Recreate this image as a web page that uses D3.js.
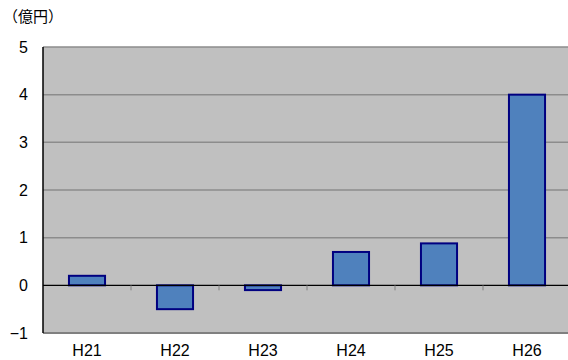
<!DOCTYPE html>
<html><head><meta charset="utf-8">
<script src="https://cdn.jsdelivr.net/npm/d3@7"></script>
<style>body{margin:0;background:#fff;} svg{display:block;font-family:"Noto Sans CJK JP","Liberation Sans",sans-serif;}</style>
</head><body>
<svg id="c" width="568" height="360"></svg>
<script>
const categories = ["H21","H22","H23","H24","H25","H26"];
const values = [0.2, -0.5, -0.1, 0.7, 0.88, 4.0];
const yTicks = [-1, 0, 1, 2, 3, 4, 5];
const unitLabel = "（億円）";

const svg = d3.select("#c");
const L = 43, R = 571, T = 47, B = 333;
const x = d3.scaleBand().domain(categories).range([L, R]).paddingInner(0.59).paddingOuter(0.295);
const xb = d3.scaleBand().domain(categories).range([L, R]);
const y = d3.scaleLinear().domain([-1, 5]).range([B, T]);

svg.append("rect").attr("x", L).attr("y", T).attr("width", R - L).attr("height", B - T).attr("fill", "#C0C0C0");
// gridlines (incl. top border)
svg.append("g").selectAll("line").data(yTicks.filter(d => d > 0)).join("line")
  .attr("x1", L).attr("x2", R).attr("y1", d => y(d)).attr("y2", d => y(d))
  .attr("stroke", "#8c8c8c").attr("stroke-width", 1.5);
// bottom border
svg.append("line").attr("x1", L).attr("x2", R).attr("y1", B).attr("y2", B).attr("stroke", "#808080").attr("stroke-width", 2);
// bars
svg.append("g").selectAll("rect").data(values).join("rect")
  .attr("x", (d, i) => x(categories[i]))
  .attr("width", x.bandwidth())
  .attr("y", d => y(Math.max(0, d)))
  .attr("height", d => Math.abs(y(d) - y(0)))
  .attr("fill", "#4F81BD").attr("stroke", "#000080").attr("stroke-width", 2);
// zero line with ticks
svg.append("line").attr("x1", L).attr("x2", R).attr("y1", y(0)).attr("y2", y(0)).attr("stroke", "#000").attr("stroke-width", 1.2);
svg.append("g").selectAll("line").data(categories.slice(1)).join("line")
  .attr("x1", d => xb(d)).attr("x2", d => xb(d)).attr("y1", y(0)).attr("y2", y(0) + 5)
  .attr("stroke", "#808080").attr("stroke-width", 1);
// left axis line
svg.append("line").attr("x1", L).attr("x2", L).attr("y1", T).attr("y2", B).attr("stroke", "#000").attr("stroke-width", 1.5);
// y labels
const yAxis = d3.axisLeft(y).tickValues(yTicks).tickSize(0).tickPadding(15).tickFormat(d => d < 0 ? "−" + Math.abs(d) : d);
const ga = svg.append("g").attr("transform", `translate(${L},0)`).call(yAxis);
ga.select(".domain").remove();
ga.selectAll("text").attr("font-size", 16).attr("fill", "#000").style("font-family", "'Liberation Sans',sans-serif");
// x labels
const xa = d3.axisBottom(xb).tickSize(0).tickPadding(0);
const gx = svg.append("g").attr("transform", `translate(0,${B + 12})`).call(xa);
gx.select(".domain").remove();
gx.selectAll("text").attr("font-size", 16).attr("fill", "#000").style("font-family", "'Liberation Sans',sans-serif");
// unit label
svg.append("text").attr("x", 3).attr("y", 22).attr("font-size", 15).attr("fill", "#000").text(unitLabel);
</script>
</body></html>
